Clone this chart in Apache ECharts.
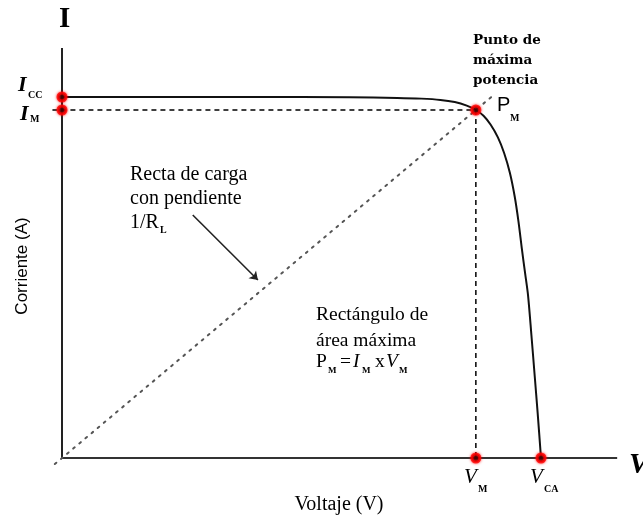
<!DOCTYPE html>
<html>
<head>
<meta charset="utf-8">
<script src="https://cdn.jsdelivr.net/npm/echarts@6/dist/echarts.min.js"></script>
<style>html,body{margin:0;padding:0;background:#fff;}#c{width:643px;height:520px;}</style>
</head>
<body>
<div id="c"></div>
<script>
// I-V curve (voltage as % of V_CA, current as % of I_CC)
const voltage = [0, 40, 60, 70, 75, 79, 82, 84.5, 86.4, 88, 89.5, 91, 92.3, 93.5, 94.5, 95.3, 96.0, 96.7, 97.3, 98.0, 98.7, 99.3, 100];
const current = [100, 100, 99.92, 99.75, 99.55, 99.2, 98.6, 97.6, 96.4, 94.8, 92.3, 88.8, 84.5, 79, 72.5, 65.5, 58, 51, 45, 34, 22.5, 12.5, 0];
// key points
const Icc = 100, Im = 96.4, Vm = 86.4, Vca = 100;
// axis extents
const xAxisEnd = 115.9, yAxisEnd = 113.6;
// load line extent (voltage)
const loadLineV = [-1.5, 89.8];
// annotation arrow (data coords)
const arrowFrom = [27.3, 67.3], arrowTo = [40.9, 49.3];

const curve = voltage.map((v, i) => [v, current[i]]);
const slope = Im / Vm;
const loadLine = loadLineV.map(v => [v, v * slope]);
const keyPoints = [[0, Icc], [0, Im], [Vm, Im], [Vm, 0], [Vca, 0]];

const serif = '"Liberation Serif", "Times New Roman", serif';
const sans = '"Liberation Sans", Arial, sans-serif';

function txt(x, y, text, font, opts) {
  return {
    type: 'text', x: x, y: y, z: 100,
    style: Object.assign({ text: text, font: font, fill: '#000', align: 'left', verticalAlign: 'middle' }, opts || {})
  };
}

const chart = echarts.init(document.getElementById('c'), null, { renderer: 'canvas' });
chart.setOption({
  animation: false,
  backgroundColor: '#fff',
  grid: { left: 38.05, top: 42.85, width: 598.75, height: 433.2 },
  xAxis: { type: 'value', min: -5, max: 120, show: false },
  yAxis: { type: 'value', min: -5, max: 115, show: false },
  series: [
    { type: 'line', data: [[0, 0], [xAxisEnd, 0]], symbol: 'none', lineStyle: { color: '#333', width: 2 }, z: 2 },
    { type: 'line', data: [[0, 0], [0, yAxisEnd]], symbol: 'none', lineStyle: { color: '#222', width: 2 }, z: 2 },
    { type: 'line', data: loadLine, symbol: 'none', lineStyle: { color: '#555', width: 2, type: [2, 6], cap: 'round' }, z: 3 },
    { type: 'line', data: [[-2, Im], [Vm, Im]], symbol: 'none', lineStyle: { color: '#000', width: 1.5, type: [5, 4] }, z: 3 },
    { type: 'line', data: [[Vm, Im], [Vm, 0]], symbol: 'none', lineStyle: { color: '#000', width: 1.5, type: [5, 4] }, z: 3 },
    { type: 'line', data: curve, symbol: 'none', smooth: 0.3, lineStyle: { color: '#111', width: 2 }, z: 4 },
    { type: 'lines', coordinateSystem: 'cartesian2d', data: [{ coords: [arrowFrom, arrowTo] }],
      symbol: ['none', 'arrow'], symbolSize: 8, lineStyle: { color: '#222', width: 1.6, opacity: 1 }, z: 5 },
    { type: 'scatter', data: keyPoints, symbolSize: 8, itemStyle: { color: '#000', borderColor: '#f00', borderWidth: 3, shadowColor: 'rgba(255,0,0,0.8)', shadowBlur: 3 }, z: 10 }
  ],
  graphic: [
    txt(59, 20, 'I', 'bold 29px ' + serif),
    txt(629, 466, 'V', 'italic bold 29px ' + serif),
    txt(18, 85, 'I', 'italic bold 22px ' + serif),
    txt(28, 95, 'CC', 'bold 10px ' + serif),
    txt(20, 114, 'I', 'italic bold 22px ' + serif),
    txt(30, 119, 'M', 'bold 10px ' + serif),
    { type: 'text', x: 22, y: 266, rotation: Math.PI / 2, z: 100,
      style: { text: 'Corriente (A)', font: '17px ' + sans, fill: '#000', align: 'center', verticalAlign: 'middle' } },
    txt(339, 505, 'Voltaje (V)', '20px ' + serif, { align: 'center' }),
    { type: 'text', x: 473, y: 30, z: 100,
      style: { text: 'Punto de\nmáxima\npotencia', font: 'bold 13.5px "DejaVu Serif", serif', lineHeight: 20, fill: '#000', align: 'left', verticalAlign: 'top' } },
    txt(497, 105, 'P', '20px ' + sans),
    txt(510, 118, 'M', 'bold 10px ' + serif),
    { type: 'text', x: 130, y: 163, z: 100,
      style: { text: 'Recta de carga\ncon pendiente\n1/R', font: '20px ' + serif, lineHeight: 24, fill: '#000', align: 'left', verticalAlign: 'top' } },
    txt(160, 230, 'L', 'bold 10px ' + serif),
    { type: 'text', x: 316, y: 302, z: 100,
      style: { text: 'Rectángulo de\nárea máxima', font: '19.5px ' + serif, lineHeight: 26, fill: '#000', align: 'left', verticalAlign: 'top' } },
    txt(316, 362, 'P', '19.5px ' + serif),
    txt(328, 371, 'M', 'bold 9px ' + serif),
    txt(340, 362, '=', '19.5px ' + serif),
    txt(353, 362, 'I', 'italic 19.5px ' + serif),
    txt(362, 371, 'M', 'bold 9px ' + serif),
    txt(375, 362, 'x', '19.5px ' + serif),
    txt(386, 362, 'V', 'italic 19.5px ' + serif),
    txt(399, 371, 'M', 'bold 9px ' + serif),
    txt(464, 477, 'V', 'italic 21px ' + serif),
    txt(478, 489, 'M', 'bold 10px ' + serif),
    txt(530, 477, 'V', 'italic 21px ' + serif),
    txt(544, 489, 'CA', 'bold 10px ' + serif)
  ]
});
</script>
</body>
</html>
